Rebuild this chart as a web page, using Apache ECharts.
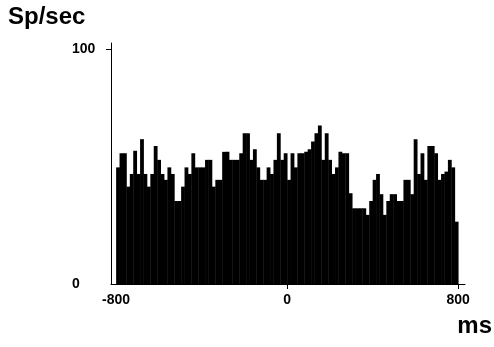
<!DOCTYPE html>
<html>
<head>
<meta charset="utf-8">
<title>PSTH</title>
<script src="https://cdn.jsdelivr.net/npm/echarts@6/dist/echarts.min.js"></script>
<style>
    html, body{
        margin: 0;
        padding: 0;
        background: #fff;
    }
    #chart{
        width: 494px;
        height: 347px;
    }
</style>
</head>
<body>
<div id="chart"></div>
<script>
// histogram bins: 16 ms wide, starting at -800 ms
const binStart = -800;
const binWidth = 16;
// firing rate per bin (Sp/sec)
const rates = [
    49.6, 55.6, 55.6, 41.4, 46.8, 56.7, 46.8, 61.6, 46.8, 41.4,
    46.8, 58.7, 52.8, 46.8, 44.3, 49.6, 46.8, 35.3, 35.3, 41.4,
    49.6, 46.8, 55.6, 49.6, 49.6, 49.6, 52.8, 52.8, 41.4, 44.3,
    44.3, 56.2, 56.2, 52.8, 52.8, 52.8, 55.6, 64.1, 64.1, 52.8,
    57.3, 49.6, 44.3, 44.3, 49.6, 46.8, 52.8, 64.1, 52.8, 55.6,
    44.3, 55.6, 49.6, 55.6, 55.6, 56.2, 57.3, 60.6, 64.1, 67.4,
    52.8, 64.1, 52.8, 46.8, 49.6, 56.2, 55.6, 55.6, 38.6, 32.2,
    32.2, 32.2, 32.2, 29.4, 35.3, 44.3, 46.8, 38.2, 29.4, 35.3,
    38.2, 38.2, 35.3, 35.3, 44.3, 44.3, 38.2, 61.6, 46.8, 55.6,
    44.3, 58.7, 58.7, 55.6, 44.3, 46.8, 47.8, 52.8, 49.6, 26.5
];
const xLabels = [-800, 0, 800];
const xTicks = [0, 800];
const yLabels = [0, 100];
const yTicks = [100];

const font = '"Liberation Sans", Arial, sans-serif';

let bins = rates.map((v, i) => [binStart + i * binWidth, binStart + (i + 1) * binWidth, v]);

let chart = echarts.init(document.getElementById('chart'), null, {renderer: 'canvas'});
chart.setOption({
    animation: false,
    backgroundColor: '#fff',
    grid: {left: 111, right: 29, top: 43, bottom: 63},
    xAxis: {
        type: 'value',
        min: -824,
        max: 832,
        axisLine: {onZero: false, lineStyle: {color: '#000', width: 1}},
        axisTick: {show: true, length: 5, customValues: xTicks, lineStyle: {color: '#000'}},
        axisLabel: {
            customValues: xLabels,
            margin: 9,
            color: '#000',
            fontFamily: font,
            fontWeight: 'bold',
            fontSize: 14
        },
        splitLine: {show: false}
    },
    yAxis: {
        type: 'value',
        min: 0,
        max: 102.5,
        axisLine: {show: true, onZero: false, lineStyle: {color: '#000', width: 1}},
        axisTick: {show: true, length: 5, customValues: yTicks, lineStyle: {color: '#000'}},
        axisLabel: {
            customValues: yLabels,
            align: 'left',
            margin: 39,
            color: '#000',
            fontFamily: font,
            fontWeight: 'bold',
            fontSize: 14
        },
        splitLine: {show: false}
    },
    graphic: [
        {
            type: 'text', left: 8, top: 5,
            style: {text: 'Sp/sec', fill: '#000', font: 'bold 24px ' + font}
        },
        {
            type: 'text', right: 2, top: 314,
            style: {text: 'ms', fill: '#000', font: 'bold 24px ' + font}
        }
    ],
    series: [{
        type: 'custom',
        data: bins,
        encode: {x: [0, 1], y: 2},
        renderItem: function(params, api){
            let p0 = api.coord([api.value(0), api.value(2)]);
            let p1 = api.coord([api.value(1), 0]);
            return {
                type: 'rect',
                shape: {x: p0[0], y: p0[1], width: p1[0] - p0[0] + 0.4, height: p1[1] - p0[1]},
                style: {fill: '#000'}
            };
        }
    }]
});
</script>
</body>
</html>
